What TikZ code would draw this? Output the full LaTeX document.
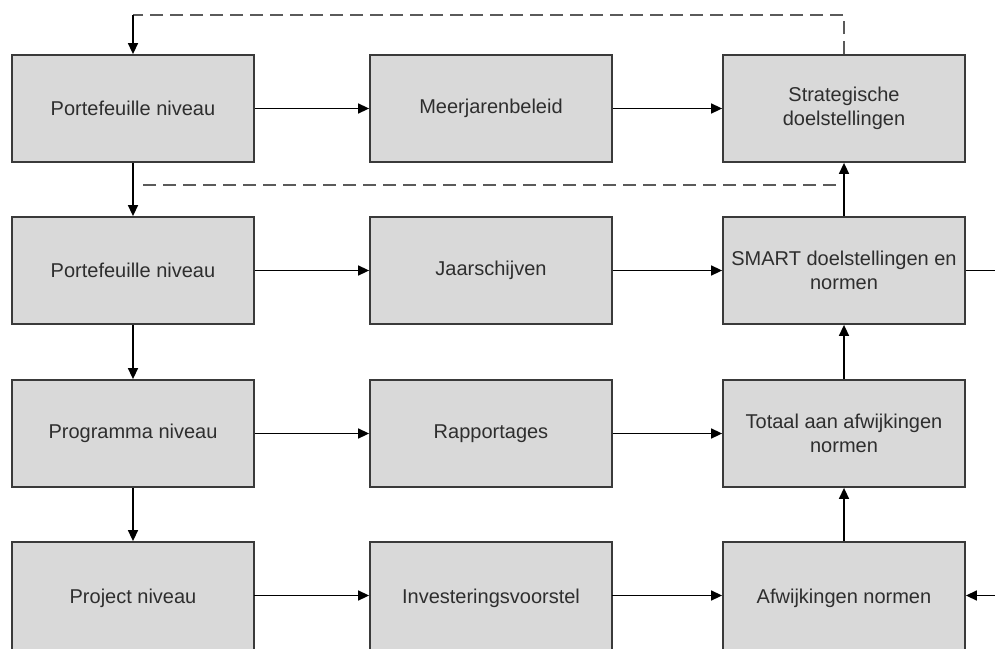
\documentclass[tikz,border=0pt]{standalone}
\usepackage{fontspec}
\setmainfont{Liberation Sans}
\usetikzlibrary{arrows.meta}
\definecolor{boxfill}{HTML}{D9D9D9}
\definecolor{boxline}{HTML}{3A3A3A}
\definecolor{txt}{HTML}{2E2E2E}
\definecolor{dashc}{HTML}{5A5A5A}
\begin{document}
\begin{tikzpicture}[x=1pt,y=-1pt,
  blok/.style={draw=boxline, fill=boxfill, line width=1.8pt, minimum width=242pt,
    minimum height=107pt, inner sep=0pt, align=center, text=txt,
    font=\fontsize{20}{24}\selectfont},
  onder/.style={blok, minimum height=112pt},
  pijl/.style={line width=1.5pt, draw=black, -{Triangle[length=11pt,width=10pt]}},
  lijn/.style={line width=1.5pt, draw=black},
  terug/.style={line width=2pt, draw=dashc, dash pattern=on 13pt off 7pt}]
\useasboundingbox (0,0) rectangle (995,648);
% three columns, four rows
\node[blok] (p1) at (133,108.5) {Portefeuille niveau};
\node[blok] (m1) at (491,108.5) {Meerjarenbeleid};
\node[blok] (s1) at (844,108.5) {Strategische\\doelstellingen};
\node[blok] (p2) at (133,270.5) {Portefeuille niveau};
\node[blok] (m2) at (491,270.5) {Jaarschijven};
\node[blok] (s2) at (844,270.5) {SMART doelstellingen en\\normen};
\node[blok] (p3) at (133,433.5) {Programma niveau};
\node[blok] (m3) at (491,433.5) {Rapportages};
\node[blok] (s3) at (844,433.5) {Totaal aan afwijkingen\\normen};
% bottom row runs past the lower edge
\node[onder] (p4) at (133,598) {Project niveau};
\node[onder] (m4) at (491,598) {Investeringsvoorstel};
\node[onder] (s4) at (844,598) {Afwijkingen normen};
% horizontal flow
\foreach \r in {1,2,3}{
  \draw[pijl] (p\r) -- (m\r);
  \draw[pijl] (m\r) -- (s\r);
}
\coordinate (h1) at (254,595.5);
\coordinate (h2) at (612,595.5);
\draw[pijl] (h1) -- (h1 -| m4.west);
\draw[pijl] (h2) -- (h2 -| s4.west);
% downward flow on the left
\draw[pijl] (p1) -- (p2);
\draw[pijl] (p2) -- (p3);
\draw[pijl] (p3) -- (p4);
% upward flow on the right
\draw[pijl] (s4) -- (s3);
\draw[pijl] (s3) -- (s2);
\draw[pijl] (s2) -- (s1);
% outgoing and incoming lines at the right edge
\coordinate (uit) at (995,270.5);
\coordinate (in) at (995,595.5);
\draw[lijn] (s2.east) -- (uit);
\draw[pijl] (in) -- (in -| s4.east);
% feedback loops
\coordinate (t1) at (844,15);
\coordinate (t2) at (133,15);
\draw[terug] (s1.north) -- (t1) -- (t2);
\draw[pijl] (t2) -- (p1.north);
\coordinate (d1) at (836,185);
\coordinate (d2) at (138,185);
\draw[terug] (d1) -- (d2);
\end{tikzpicture}
\end{document}
